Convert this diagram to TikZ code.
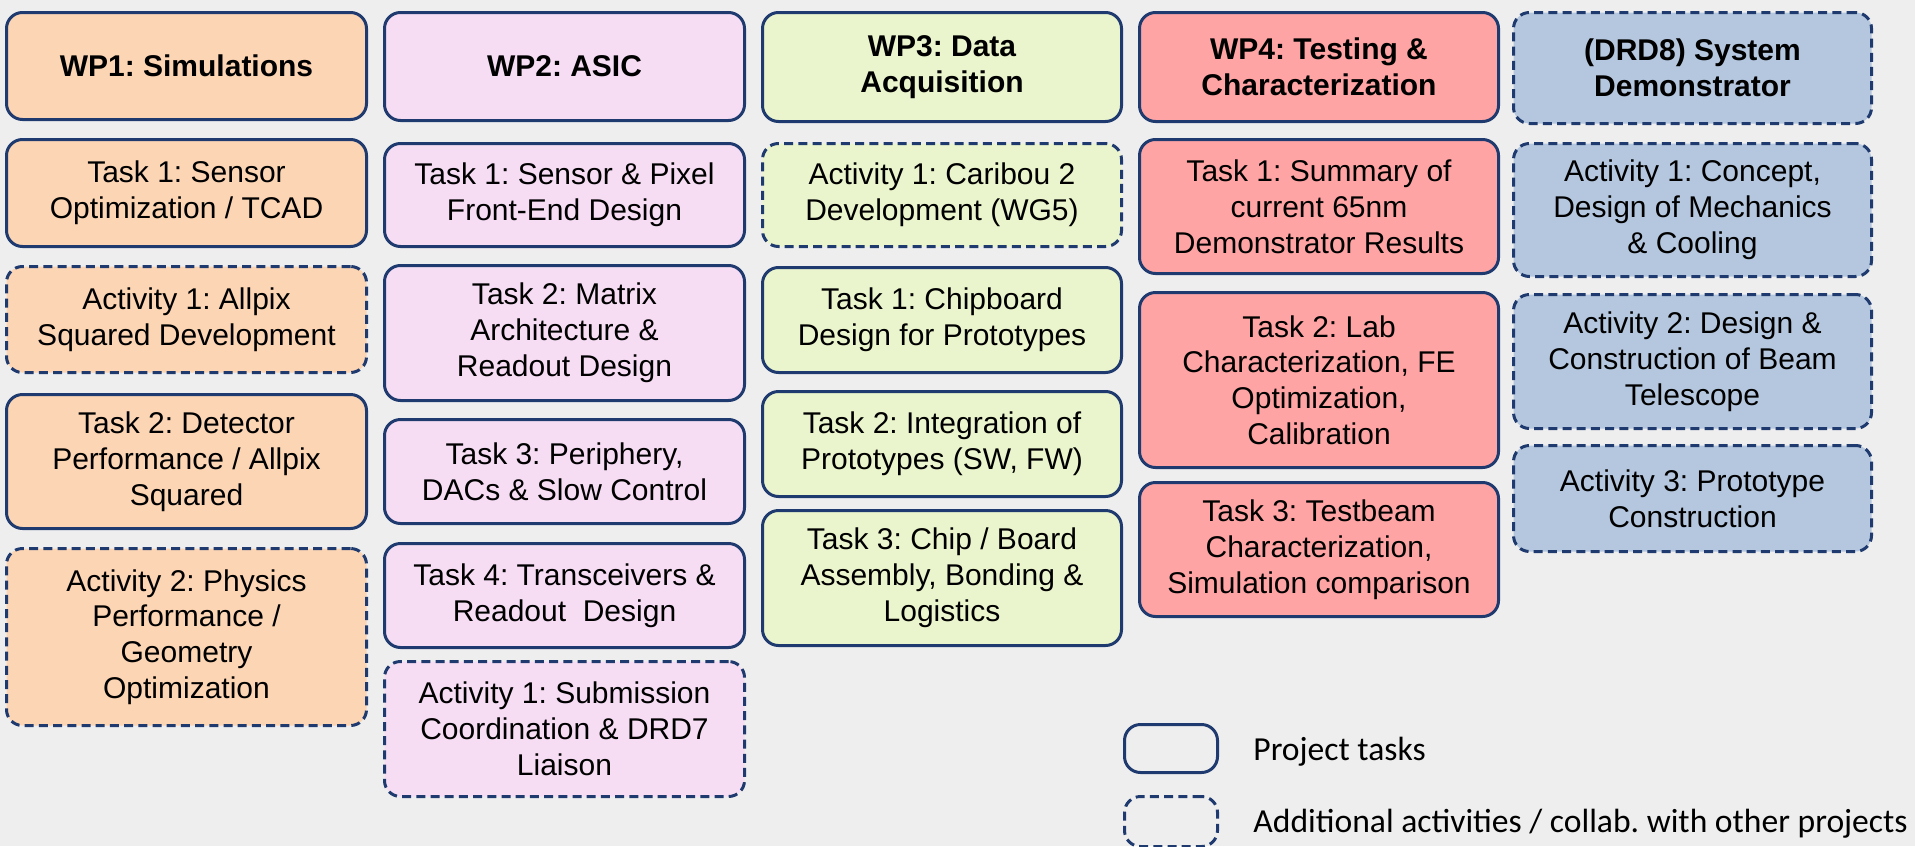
\documentclass[tikz,border=0pt]{standalone}
\usepackage{fontspec}
\setmainfont{Liberation Sans}
\newfontfamily\legendfont{Carlito}
\frenchspacing
\definecolor{pageback}{HTML}{EEEEEE}
\definecolor{edge}{HTML}{1F3A6E}
\definecolor{simfill}{HTML}{FCD5B4}
\definecolor{asicfill}{HTML}{F6DDF4}
\definecolor{daqfill}{HTML}{EBF5CD}
\definecolor{testfill}{HTML}{FFA4A4}
\definecolor{demofill}{HTML}{B4C7DE}
\tikzset{
  % rectangle given by its outer pixel edges: left, top, right, bottom
  span/.style n args={4}{
    minimum width={(#3-#1)*0.5pt-1.5pt},
    minimum height={(#4-#2)*0.5pt-1.5pt},
    at={({(#1+#3)/2},{(#2+#4)/2})}},
  card/.style={draw=edge, line width=1.5pt, rounded corners=8pt,
    align=center, inner sep=0pt,
    font=\fontsize{15pt}{17.9pt}\selectfont},
  headcard/.style={card, font=\fontsize{15pt}{17.9pt}\selectfont\bfseries},
  collab/.style={dash pattern=on 4.5pt off 2.6pt},
  legendtext/.style={anchor=base west, inner sep=0pt,
    font=\legendfont\fontsize{16.8pt}{20pt}\selectfont}
}
\begin{document}
\begin{tikzpicture}[x=0.5pt, y=-0.5pt]
\fill[pageback] (0,0) rectangle (1915,846);
\useasboundingbox (0,0) rectangle (1915,846);

% WP1: simulations
\node[headcard, fill=simfill, span={5}{11}{368}{121}] (h1) {WP1: Simulations};
\node[card, fill=simfill, span={5}{138}{368}{248}] (s1) {Task 1: Sensor\\Optimization / TCAD};
\node[card, collab, fill=simfill, span={5}{265}{368}{374}] (s2) {Activity 1: Allpix\\Squared Development};
\node[card, fill=simfill, span={5}{393}{368}{530}] (s3) {Task 2: Detector\\Performance / Allpix\\Squared};
\node[card, collab, fill=simfill, span={5}{547}{368}{727}] (s4) {Activity 2: Physics\\Performance /\\Geometry\\Optimization};

% WP2: ASIC
\node[headcard, fill=asicfill, span={383}{11}{746}{122}] (h2) {WP2: ASIC};
\node[card, fill=asicfill, span={383}{142}{746}{248}] (a1) {Task 1: Sensor \& Pixel\\Front-End Design};
\node[card, fill=asicfill, span={383}{264}{746}{402}] (a2) {Task 2: Matrix\\Architecture \&\\Readout Design};
\node[card, fill=asicfill, span={383}{418}{746}{525}] (a3) {Task 3: Periphery,\\DACs \& Slow Control};
\node[card, fill=asicfill, span={383}{542}{746}{649}] (a4) {Task 4: Transceivers \&\\Readout\ \ Design};
\node[card, collab, fill=asicfill, span={383}{660}{746}{798}] (a5) {Activity 1: Submission\\Coordination \& DRD7\\Liaison};

% WP3: data acquisition
\node[headcard, fill=daqfill, span={761}{11}{1123}{123}] (h3) {WP3: Data\\Acquisition};
\node[card, collab, fill=daqfill, span={761}{142}{1123}{248}] (d1) {Activity 1: Caribou 2\\Development (WG5)};
\node[card, fill=daqfill, span={761}{266}{1123}{374}] (d2) {Task 1: Chipboard\\Design for Prototypes};
\node[card, fill=daqfill, span={761}{390}{1123}{498}] (d3) {Task 2: Integration of\\Prototypes (SW, FW)};
\node[card, fill=daqfill, span={761}{509}{1123}{647}] (d4) {Task 3: Chip / Board\\Assembly, Bonding \&\\Logistics};

% WP4: testing
\node[headcard, fill=testfill, span={1138}{11}{1500}{123}] (h4) {WP4: Testing \&\\Characterization};
\node[card, fill=testfill, span={1138}{138}{1500}{275}] (t1) {Task 1: Summary of\\current 65nm\\Demonstrator Results};
\node[card, fill=testfill, span={1138}{291}{1500}{469}] (t2) {Task 2: Lab\\Characterization, FE\\Optimization,\\Calibration};
\node[card, fill=testfill, span={1138}{481}{1500}{618}] (t3) {Task 3: Testbeam\\Characterization,\\Simulation comparison};

% DRD8: system demonstrator
\node[headcard, collab, fill=demofill, span={1512}{11}{1873}{125}] (h5) {(DRD8) System\\Demonstrator};
\node[card, collab, fill=demofill, span={1512}{142}{1873}{278}] (m1) {Activity 1: Concept,\\Design of Mechanics\\\& Cooling};
\node[card, collab, fill=demofill, span={1512}{293}{1873}{430}] (m2) {Activity 2: Design \&\\Construction of Beam\\Telescope};
\node[card, collab, fill=demofill, span={1512}{444}{1873}{553}] (m3) {Activity 3: Prototype\\Construction};

% legend
\node[card, span={1123}{723}{1219}{774}] (k1) {};
\node[card, collab, span={1123}{795}{1219}{848}] (k2) {};
\node[legendtext] (k1t) at (1253,760) {Project tasks};
\node[legendtext] (k2t) at (1253,832) {Additional activities / collab. with other projects};
\end{tikzpicture}
\end{document}
